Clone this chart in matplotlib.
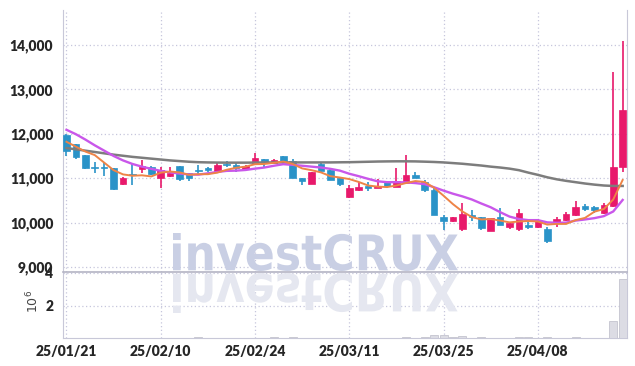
import matplotlib
matplotlib.use("Agg")
import matplotlib.pyplot as plt
from matplotlib.textpath import TextPath
from matplotlib.patches import PathPatch
from matplotlib.font_manager import FontProperties
from matplotlib.transforms import Affine2D, IdentityTransform

W, H, DPI = 635, 366, 100

# ---------------- data ----------------
tick_pos = [0, 10, 20, 30, 40, 50]
tick_labels = ["25/01/21", "25/02/10", "25/02/24", "25/03/11", "25/03/25", "25/04/08"]

opens = [11970, 11760, 11520, 11230, 11230, 11225, 10860, 11075, 11210, 11260,
         11010, 11060, 11275, 11110, 11170, 11240, 11170, 11305, 11300, 11210,
         11320, 11435, 11350, 11500, 11390, 11010, 10870, 11315, 11185, 11000,
         10570, 10740, 10830, 10790, 10915, 10810, 10900, 11075, 10920, 10735,
         10135, 10025, 9850, 10175, 10120, 9820, 10135, 9895, 9850, 9930,
         9910, 9860, 9985, 10060, 10170, 10375, 10340, 10210, 10375, 11246]
highs = [11990, 11770, 11530, 11360, 11360, 11230, 11020, 11320, 11420, 11280,
         11260, 11260, 11280, 11120, 11300, 11260, 11340, 11380, 11340, 11300,
         11560, 11440, 11440, 11510, 11435, 11015, 11140, 11335, 11230, 11010,
         10850, 10925, 10925, 10985, 10920, 11225, 11525, 11150, 10960, 10810,
         10170, 10135, 10435, 10285, 10125, 10110, 10325, 10010, 10305, 10010,
         10090, 9910, 10120, 10230, 10495, 10420, 10380, 10440, 13400, 14100]
lows = [11500, 11440, 11200, 11120, 11050, 10730, 10840, 10850, 11125, 11080,
        10770, 11035, 10940, 10940, 11075, 11150, 11150, 11260, 11150, 11200,
        11300, 11240, 11330, 11315, 11000, 10850, 10860, 11110, 10960, 10830,
        10550, 10720, 10720, 10770, 10780, 10800, 10890, 11000, 10700, 10160,
        9840, 10010, 9800, 10040, 9835, 9810, 9935, 9860, 9820, 9860,
        9880, 9550, 9900, 10040, 10150, 10250, 10205, 10200, 10360, 11150]
closes = [11610, 11470, 11220, 11220, 11220, 10760, 11010, 11070, 11275, 11090,
          11185, 11125, 10975, 11000, 11165, 11180, 11300, 11295, 11240, 11285,
          11450, 11340, 11410, 11390, 11010, 10945, 11135, 11165, 10960, 10870,
          10775, 10800, 10780, 10830, 10820, 10940, 11075, 11015, 10735, 10160,
          10045, 10115, 10195, 10115, 9870, 10100, 9950, 10000, 10210, 9910,
          10060, 9595, 10080, 10195, 10345, 10310, 10285, 10400, 11260, 12540]
volumes = [25000, 22000, 20000, 15000, 15000, 30000, 20000, 18000, 20000, 15000,
           25000, 15000, 18000, 15000, 60000, 15000, 15000, 20000, 15000, 15000,
           25000, 15000, 60000, 20000, 60000, 20000, 20000, 15000, 20000, 15000,
           20000, 15000, 15000, 15000, 15000, 30000, 60000, 20000, 60000, 180000,
           180000, 90000, 130000, 30000, 70000, 25000, 30000, 20000, 60000, 60000,
           30000, 60000, 25000, 25000, 35000, 20000, 20000, 30000, 1050000, 3650000]

ma5 = [11820, 11710, 11600, 11520, 11350, 11180, 11085, 11055, 11065, 11040,
       11125, 11150, 11130, 11075, 11090, 11090, 11125, 11190, 11235, 11260,
       11315, 11320, 11345, 11375, 11320, 11220, 11180, 11130, 11045, 11015,
       10980, 10915, 10835, 10810, 10800, 10835, 10890, 10935, 10915, 10785,
       10605, 10415, 10250, 10125, 10070, 10080, 10045, 10005, 10025, 10035,
       10025, 9955, 9970, 9970, 10055, 10105, 10245, 10305, 10520, 10960]
ma10 = [12090, 11990, 11870, 11740, 11620, 11500, 11400, 11320, 11260, 11210,
        11165, 11130, 11105, 11085, 11080, 11110, 11140, 11165, 11170, 11185,
        11215, 11240, 11280, 11315, 11300, 11280, 11260, 11240, 11210, 11170,
        11100, 11045, 10985, 10930, 10910, 10910, 10905, 10890, 10865, 10795,
        10720, 10650, 10590, 10520, 10430, 10345, 10235, 10135, 10080, 10055,
        10055, 10005, 9995, 10000, 10045, 10070, 10100, 10145, 10250, 10510]
ma60 = [11680, 11650, 11620, 11590, 11560, 11530, 11505, 11480, 11460, 11440,
        11420, 11400, 11385, 11370, 11360, 11355, 11352, 11350, 11350, 11350,
        11352, 11355, 11355, 11355, 11355, 11355, 11355, 11355, 11355, 11358,
        11360, 11365, 11370, 11375, 11378, 11380, 11380, 11378, 11372, 11365,
        11355, 11340, 11325, 11305, 11285, 11260, 11240, 11215, 11180, 11125,
        11075, 11020, 10975, 10940, 10910, 10880, 10855, 10835, 10825, 10825]

price_ticks = [9000, 10000, 11000, 12000, 13000, 14000]
price_tick_labels = ["9,000", "10,000", "11,000", "12,000", "13,000", "14,000"]
vol_ticks = [2e6, 4e6]
vol_tick_labels = ["2", "4"]

# ---------------- styling ----------------
UP = "#e8196b"
DOWN = "#2a93c8"
GRID = "#c6c6dc"
SPINE = "#c8c8d8"
LABEL_FONT = dict(family=["Lato", "DejaVu Sans"], weight="heavy",
                  size=10, color="#262626")

fig = plt.figure(figsize=(W / DPI, H / DPI), dpi=DPI)
ax = fig.add_axes([63 / W, 1 - 272 / H, (627 - 63) / W, (272 - 10) / H])
axv = fig.add_axes([63 / W, 1 - 338 / H, (627 - 63) / W, (338 - 273) / H], sharex=ax)

n = len(closes)
xs = list(range(n))

# candles
for i in xs:
    o, h, l, c = opens[i], highs[i], lows[i], closes[i]
    col = UP if c >= o else DOWN
    ax.vlines(i, l, h, color=col, linewidth=1.2, zorder=3)
    bottom = min(o, c)
    height = max(abs(c - o), 30)
    ax.bar(i, height, bottom=bottom, width=0.7, color=col, edgecolor=col,
           linewidth=0.5, zorder=4)

ax.plot(xs, ma60, color="#7d7d7d", linewidth=1.8, zorder=5)
ax.plot(xs, ma10, color="#c957ea", linewidth=1.7, zorder=5)
ax.plot(xs, ma5, color="#ee8447", linewidth=1.4, zorder=5)

ax.set_xlim(-0.37, 59.46)
ax.set_ylim(8887, 14788)
ax.set_yticks(price_ticks)
ax.set_yticklabels(price_tick_labels, fontdict=LABEL_FONT)
ax.tick_params(axis="both", length=0, pad=7)
ax.tick_params(axis="x", labelbottom=False)
ax.set_xticks(tick_pos)
ax.grid(True, color=GRID, linestyle=(0, (1, 2)), linewidth=0.9)
ax.set_axisbelow(True)
ax.spines["top"].set_visible(False)
ax.spines["left"].set_color(SPINE)
ax.spines["right"].set_color(SPINE)
ax.spines["bottom"].set_color("#b4b4c4")
ax.spines["bottom"].set_linewidth(1.2)

# volume
axv.bar(xs, volumes, width=0.85, color="#dcdce4", edgecolor="#bcbcc8",
        linewidth=0.5, zorder=3)
axv.set_ylim(0, 4.0e6)
axv.set_yticks(vol_ticks)
axv.set_yticklabels(vol_tick_labels, fontdict=LABEL_FONT)
axv.set_xticks(tick_pos)
axv.set_xticklabels(tick_labels, fontdict=LABEL_FONT)
axv.tick_params(axis="both", length=0, pad=7)
axv.tick_params(axis="x", pad=5)
axv.grid(True, color=GRID, linestyle=(0, (1, 2)), linewidth=0.9)
axv.set_axisbelow(True)
axv.spines["top"].set_visible(False)
for s in ["left", "right", "bottom"]:
    axv.spines[s].set_color(SPINE)

fig.text(33 / W, 1 - 301 / H, r"$10^6$", rotation=90, ha="center", va="center",
         fontsize=9, color="#444444")


# watermark (with reflection)
def watermark(axes, text, x0, base_y, width, height, color, flip, zorder):
    fpw = FontProperties(family=["DejaVu Sans"], weight="bold")
    tp = TextPath((0, 0), text, size=100, prop=fpw)
    ext = tp.get_extents()
    sx = width / ext.width
    sy = height / ext.height
    if flip:
        sy = -sy
    tr = Affine2D().translate(-ext.x0, -ext.y0).scale(sx, sy).translate(x0, base_y)
    patch = PathPatch(tr.transform_path(tp), facecolor=color, edgecolor="none",
                      transform=IdentityTransform(), zorder=zorder, clip_on=False)
    axes.add_artist(patch)


watermark(ax, "investCRUX", 173, H - 271, 285, 38, "#c9cfe4", False, 2)
watermark(axv, "investCRUX", 173, H - 273, 285, 40, "#e5e7f0", True, 2)

fig.savefig("out.png", dpi=DPI)
